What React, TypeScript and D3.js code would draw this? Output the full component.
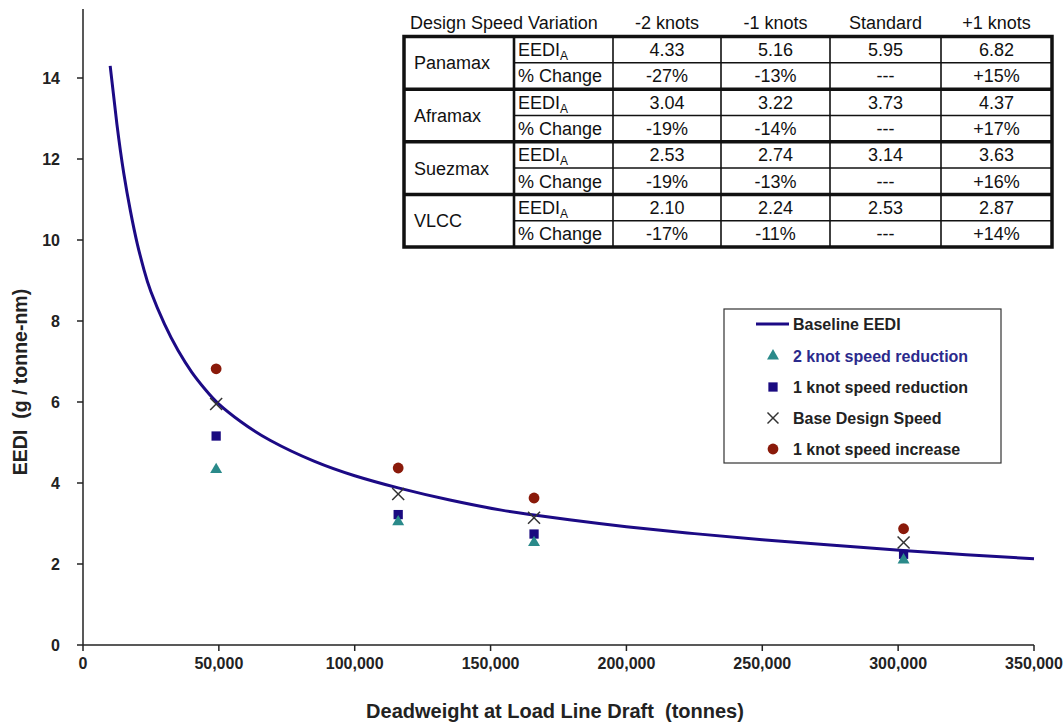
import React from "react";
import * as d3 from "d3";

// ship classes and their deadweight (tonnes)
const shipClasses = ["Panamax", "Aframax", "Suezmax", "VLCC"];
const deadweight = [49000, 116000, 166000, 302000];

// EEDI_A for each design speed variation
const speedHeaders = ["-2 knots", "-1 knots", "Standard", "+1 knots"];
const eediMinus2 = [4.33, 3.04, 2.53, 2.1];
const eediMinus1 = [5.16, 3.22, 2.74, 2.24];
const eediStandard = [5.95, 3.73, 3.14, 2.53];
const eediPlus1 = [6.82, 4.37, 3.63, 2.87];

const pctMinus2 = ["-27%", "-19%", "-19%", "-17%"];
const pctMinus1 = ["-13%", "-14%", "-13%", "-11%"];
const pctStandard = ["---", "---", "---", "---"];
const pctPlus1 = ["+15%", "+17%", "+16%", "+14%"];

// baseline curve
const baselineDwt = [
  10000, 12500, 15000, 17500, 20000, 22500, 25000, 30000, 35000, 40000, 45000,
  50000, 58000, 69000, 85000, 100000, 116000, 135000, 154000, 166000, 179000,
  200000, 225000, 250000, 275000, 303000, 325000, 350000,
];
const baselineEedi = [
  14.3, 12.85, 11.65, 10.7, 9.9, 9.25, 8.72, 7.92, 7.27, 6.74, 6.31, 5.95,
  5.52, 5.05, 4.54, 4.18, 3.88, 3.58, 3.33, 3.21, 3.09, 2.92, 2.75, 2.6, 2.47,
  2.33, 2.23, 2.13,
];

const xTicks = [0, 50000, 100000, 150000, 200000, 250000, 300000, 350000];
const yTicks = [0, 2, 4, 6, 8, 10, 12, 14];

const legendItems = [
  "Baseline EEDI",
  "2 knot speed reduction",
  "1 knot speed reduction",
  "Base Design Speed",
  "1 knot speed increase",
];

const W = 1063;
const H = 722;
const FONT = "Arial, 'Liberation Sans', sans-serif";
const NAVY = "#1c0a85";
const TEAL = "#2a8a8a";
const SQ = "#1a0a80";
const RED = "#8a1a0a";
const XCOL = "#333";

const Cross = ({ x, y, s = 6 }: { x: number; y: number; s?: number }) => (
  <g stroke={XCOL} strokeWidth={1.5}>
    <line x1={x - s} y1={y - s} x2={x + s} y2={y + s} />
    <line x1={x - s} y1={y + s} x2={x + s} y2={y - s} />
  </g>
);

const tri = d3.symbol().type(d3.symbolTriangle).size(62)();
const sqr = d3.symbol().type(d3.symbolSquare).size(86)();

const App = () => {
  const x = d3.scaleLinear().domain([0, 350000]).range([83, 1034]);
  const y = d3.scaleLinear().domain([0, 14]).range([645, 78]);

  const line = d3
    .line<number>()
    .x((_, i) => x(baselineDwt[i]))
    .y((d) => y(d))
    .curve(d3.curveNatural);

  const fmt = d3.format(",");

  // table geometry
  const colX = [404, 514, 613, 721, 830, 941, 1052];
  const tTop = 36.5;
  const tBot = 247;
  const rh = (tBot - tTop) / 8;
  const valueCols = [eediMinus2, eediMinus1, eediStandard, eediPlus1];
  const pctCols = [pctMinus2, pctMinus1, pctStandard, pctPlus1];

  const legX = 724;
  const legRows = [324, 356, 387, 418, 449];

  return (
    <svg
      width={W}
      height={H}
      style={{ position: "absolute", left: 0, top: 0, background: "#fff" }}
      fontFamily={FONT}
    >
      {/* axes */}
      <line x1={83} y1={9} x2={83} y2={645} stroke="#222" strokeWidth={1.5} />
      <line x1={83} y1={645} x2={1034} y2={645} stroke="#222" strokeWidth={1.5} />
      {yTicks.map((t) => (
        <g key={"y" + t}>
          <line x1={77} x2={83} y1={y(t)} y2={y(t)} stroke="#222" strokeWidth={1.5} />
          <text
            x={60}
            y={y(t)}
            dy="0.35em"
            textAnchor="end"
            fontSize={16}
            fontWeight="bold"
            fill="#222"
          >
            {t}
          </text>
        </g>
      ))}
      {xTicks.map((t) => (
        <g key={"x" + t}>
          <line x1={x(t)} x2={x(t)} y1={645} y2={651} stroke="#222" strokeWidth={1.5} />
          <text
            x={x(t)}
            y={669}
            textAnchor="middle"
            fontSize={16}
            fontWeight="bold"
            fill="#222"
          >
            {fmt(t)}
          </text>
        </g>
      ))}
      <text
        x={555}
        y={718}
        textAnchor="middle"
        fontSize={20}
        fontWeight="bold"
        fill="#222"
        style={{ whiteSpace: "pre" }}
      >
        {"Deadweight at Load Line Draft  (tonnes)"}
      </text>
      <text
        transform="translate(27,382) rotate(-90)"
        textAnchor="middle"
        fontSize={19.5}
        fontWeight="bold"
        fill="#222"
        style={{ whiteSpace: "pre" }}
      >
        {"EEDI  (g / tonne-nm)"}
      </text>

      {/* baseline curve */}
      <path d={line(baselineEedi) || ""} fill="none" stroke={NAVY} strokeWidth={3} />

      {/* points */}
      {deadweight.map((d, i) => (
        <g key={"p" + i}>
          <circle cx={x(d)} cy={y(eediPlus1[i])} r={5.4} fill={RED} />
          <Cross x={x(d)} y={y(eediStandard[i])} />
          <path d={sqr || ""} transform={`translate(${x(d)},${y(eediMinus1[i])})`} fill={SQ} />
          <path d={tri || ""} transform={`translate(${x(d)},${y(eediMinus2[i])})`} fill={TEAL} />
        </g>
      ))}

      {/* legend */}
      <rect x={legX} y={309} width={277} height={154} fill="#fff" stroke="#333" strokeWidth={1.2} />
      <line x1={756} x2={789} y1={legRows[0]} y2={legRows[0]} stroke={NAVY} strokeWidth={3} />
      <path d={tri || ""} transform={`translate(773,${legRows[1]})`} fill={TEAL} />
      <path d={sqr || ""} transform={`translate(773,${legRows[2]})`} fill={SQ} />
      <Cross x={773} y={legRows[3]} s={5.5} />
      <circle cx={773} cy={legRows[4]} r={5.4} fill={RED} />
      {legendItems.map((t, i) => (
        <text
          key={t}
          x={793}
          y={legRows[i]}
          dy="0.36em"
          fontSize={16}
          fontWeight="bold"
          fill={i === 1 ? "#2b2a8c" : "#222"}
        >
          {t}
        </text>
      ))}

      {/* table */}
      <text x={410} y={29} fontSize={18} fill="#111">
        Design Speed Variation
      </text>
      {speedHeaders.map((h, j) => (
        <text
          key={h}
          x={(colX[j + 2] + colX[j + 3]) / 2}
          y={29}
          textAnchor="middle"
          fontSize={18}
          fill="#111"
        >
          {h}
        </text>
      ))}
      <rect x={colX[0]} y={tTop} width={colX[6] - colX[0]} height={tBot - tTop} fill="#fff" />
      {shipClasses.map((c, i) => {
        const r0 = tTop + 2 * i * rh;
        return (
          <g key={c}>
            <text x={414} y={r0 + rh + 6.5} fontSize={18} fill="#111">
              {c}
            </text>
            <text x={518} y={r0 + rh / 2 + 6.5} fontSize={18} fill="#111">
              EEDI
              <tspan fontSize={12} dy={4}>
                A
              </tspan>
            </text>
            <text x={518} y={r0 + 1.5 * rh + 6.5} fontSize={18} fill="#111">
              % Change
            </text>
            {valueCols.map((col, j) => (
              <g key={j}>
                <text
                  x={(colX[j + 2] + colX[j + 3]) / 2}
                  y={r0 + rh / 2 + 6.5}
                  textAnchor="middle"
                  fontSize={18}
                  fill="#111"
                >
                  {col[i].toFixed(2)}
                </text>
                <text
                  x={(colX[j + 2] + colX[j + 3]) / 2}
                  y={r0 + 1.5 * rh + 6.5}
                  textAnchor="middle"
                  fontSize={18}
                  fill="#111"
                >
                  {pctCols[j][i]}
                </text>
              </g>
            ))}
            {/* thin line between the two rows */}
            <line x1={colX[1]} x2={colX[6]} y1={r0 + rh} y2={r0 + rh} stroke="#111" strokeWidth={1.6} />
            {i > 0 && (
              <line x1={colX[0]} x2={colX[6]} y1={r0} y2={r0} stroke="#111" strokeWidth={3.5} />
            )}
          </g>
        );
      })}
      {colX.slice(2, 6).map((cx) => (
        <line key={cx} x1={cx} x2={cx} y1={tTop} y2={tBot} stroke="#111" strokeWidth={1.6} />
      ))}
      <line x1={colX[1]} x2={colX[1]} y1={tTop} y2={tBot} stroke="#111" strokeWidth={2.6} />
      <rect
        x={colX[0]}
        y={tTop}
        width={colX[6] - colX[0]}
        height={tBot - tTop}
        fill="none"
        stroke="#111"
        strokeWidth={3.5}
      />
    </svg>
  );
};

export default App;
